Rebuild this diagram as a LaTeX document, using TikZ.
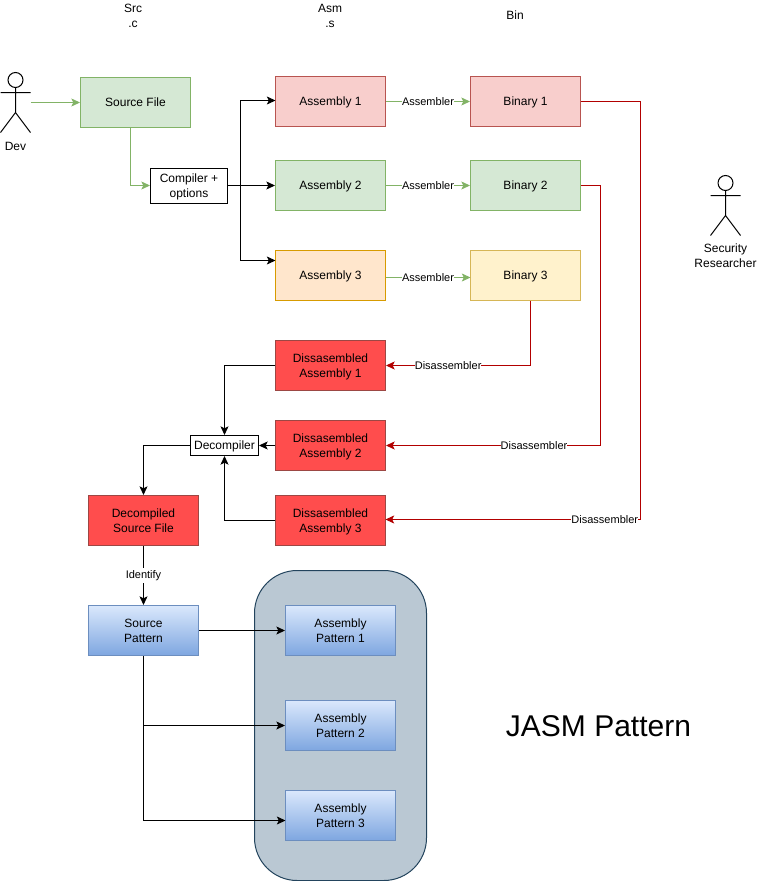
\documentclass[tikz,border=0pt]{standalone}
\usepackage{fontspec}
\setmainfont{Liberation Sans}
\usetikzlibrary{arrows.meta,shapes.misc}
\definecolor{gfill}{HTML}{D5E8D4}\definecolor{gline}{HTML}{82B366}
\definecolor{rfill}{HTML}{F8CECC}\definecolor{rline}{HTML}{B85450}
\definecolor{ofill}{HTML}{FFE6CC}\definecolor{oline}{HTML}{D79B00}
\definecolor{yfill}{HTML}{FFF2CC}\definecolor{yline}{HTML}{D6B656}
\definecolor{dfill}{HTML}{FF4D4D}\definecolor{dred}{HTML}{B20000}
\definecolor{bline}{HTML}{6C8EBF}\definecolor{btop}{HTML}{DAE8FC}\definecolor{bbot}{HTML}{7EA6E0}
\definecolor{grpfill}{HTML}{BAC8D3}\definecolor{grpline}{HTML}{23445D}
\tikzset{
  x=0.75pt,y=-0.75pt,
  txt/.style={font=\fontsize{9}{11.25}\selectfont,align=center,inner sep=0pt,text=black},
  onel/.style={execute at begin node={\rule{0pt}{8pt}},execute at end node={\rule[-2pt]{0pt}{2pt}}},
  twol/.style={text depth=0pt},
  boxn/.style={txt,draw,line width=0.75pt,minimum width=82.5pt,minimum height=37.5pt},
  greenb/.style={boxn,onel,fill=gfill,draw=gline},
  redb/.style={boxn,onel,fill=rfill,draw=rline},
  orangeb/.style={boxn,onel,fill=ofill,draw=oline},
  yellowb/.style={boxn,onel,fill=yfill,draw=yline},
  disb/.style={boxn,twol,fill=dfill,draw=rline!85!black},
  blueb/.style={boxn,twol,top color=btop,bottom color=bbot,draw=bline},
  conn/.style={line width=0.75pt,-{Stealth[length=6.5pt,width=6pt,inset=1.5pt]}},
  blackc/.style={conn,draw=black},
  greenc/.style={conn,draw=gline},
  redc/.style={conn,draw=dred},
  lbl/.style={font=\fontsize{8.25}{10}\selectfont,fill=white,inner xsep=0pt,inner ysep=1pt,text=black},
  fig/.style={line width=0.75pt,draw=black},
  actorbox/.style={minimum width=22.5pt,minimum height=45pt,inner sep=0pt},
}
\begin{document}
\begin{tikzpicture}
\useasboundingbox (0,0) rectangle (757,881);
% headers
\node[txt,twol] (hsrc) at (133,15.5) {Src\\.c};
\node[txt,twol] (hasm) at (330,15.5) {Asm\\.s};
\node[txt,onel] (hbin) at (515,15.5) {Bin};
% actors
\node[actorbox] (dev) at (15.5,102.5) {};
\draw[fig] (15.5,80) circle[radius=7.5];
\draw[fig] (15.5,87.5) -- (15.5,112.5) (0.5,92.5) -- (30.5,92.5) (0.5,132.5) -- (15.5,112.5) -- (30.5,132.5);
\node[txt,onel] (devl) at (15.5,146) {Dev};
\node[actorbox] (sec) at (725.5,205.5) {};
\draw[fig] (725.5,183) circle[radius=7.5];
\draw[fig] (725.5,190.5) -- (725.5,215.5) (710.5,195.5) -- (740.5,195.5) (710.5,235.5) -- (725.5,215.5) -- (740.5,235.5);
\node[txt,twol] (secl) at (725.5,256) {Security\\Researcher};
% group
\node[draw=grpline,fill=grpfill,line width=0.75pt,rounded corners=32pt,minimum width=129pt,minimum height=232.5pt,inner sep=0pt] (grp) at (340.5,725.5) {};
% boxes
\node[greenb] (src) at (135.5,102.5) {Source File};
\node[redb] (a1) at (330.5,101.5) {Assembly 1};
\node[greenb] (a2) at (330.5,185.5) {Assembly 2};
\node[orangeb] (a3) at (330.5,275.5) {Assembly 3};
\node[redb] (b1) at (525.5,101.5) {Binary 1};
\node[greenb] (b2) at (525.5,185.5) {Binary 2};
\node[yellowb] (b3) at (525.5,275.5) {Binary 3};
\node[txt,twol,draw=black,line width=0.75pt,fill=white,minimum width=57.75pt,minimum height=26.25pt] (comp) at (189,185.5) {Compiler +\\options};
\node[disb] (d1) at (330.5,365.5) {Dissasembled\\Assembly 1};
\node[disb] (d2) at (330.5,445.5) {Dissasembled\\Assembly 2};
\node[disb] (d3) at (330.5,520.5) {Dissasembled\\Assembly 3};
\node[txt,onel,draw=black,line width=0.75pt,fill=white,minimum width=51pt,minimum height=15pt] (dec) at (224.5,445.5) {Decompiler};
\node[disb] (ds) at (143.5,520.5) {Decompiled\\Source File};
\node[blueb] (sp) at (143.5,630.5) {Source\\Pattern};
\node[blueb] (p1) at (340.5,630.5) {Assembly\\Pattern 1};
\node[blueb] (p2) at (340.5,725.5) {Assembly\\Pattern 2};
\node[blueb] (p3) at (340.5,815.5) {Assembly\\Pattern 3};
\node[font=\fontsize{22.5}{28}\selectfont,inner sep=0pt,text=black] (title) at (598.5,726) {JASM Pattern};
% helper coordinates
\coordinate (srcout) at (130.5,127.5);
\coordinate (srcbend) at (130.5,185.5);
\coordinate (split) at (240.5,185.5);
\coordinate (a1bend) at (240.5,100.5);
\coordinate (a1in) at (275.5,100.5);
\coordinate (a3bend) at (240.5,260.5);
\coordinate (a3in) at (275.5,260.5);
\coordinate (a3out) at (385.5,277.5);
\coordinate (b3in) at (470.5,277.5);
\coordinate (b3out) at (530.5,300.5);
\coordinate (b3bend) at (530.5,365.5);
\coordinate (b2bend) at (600.5,185.5);
\coordinate (b2low) at (600.5,445.5);
\coordinate (b1bend) at (640.5,101.5);
\coordinate (b1low) at (640.5,519.5);
\coordinate (d3in) at (385.5,519.5);
\coordinate (d1bend) at (224.5,365.5);
\coordinate (d3bend) at (224.5,520.5);
\coordinate (decbend) at (143.5,445.5);
\coordinate (sp2) at (143.5,725.5);
\coordinate (sp3) at (143.5,820.5);
\coordinate (p3in) at (285.5,820.5);
% connectors
\draw[greenc] (dev.east) -- (src.west |- dev.east);
\draw[greenc] (srcout) -- (srcbend) -- (comp.west);
\draw[blackc] (comp.east) -- (a2.west);
\draw[blackc] (split) -- (a1bend) -- (a1in);
\draw[blackc] (split) -- (a3bend) -- (a3in);
\draw[greenc] (a1.east) -- node[lbl,pos=.5]{Assembler} (b1.west);
\draw[greenc] (a2.east) -- node[lbl,pos=.5]{Assembler} (b2.west);
\draw[greenc] (a3out) -- node[lbl,pos=.5]{Assembler} (b3in);
\draw[redc] (b3out) -- (b3bend) -- node[lbl,pos=.57]{Disassembler} (d1.east);
\draw[redc] (b2.east) -- (b2bend) -- (b2low) -- node[lbl,pos=.31]{Disassembler} (d2.east);
\draw[redc] (b1.east) -- (b1bend) -- (b1low) -- node[lbl,pos=.14]{Disassembler} (d3in);
\draw[blackc] (d1.west) -- (d1bend) -- (dec.north);
\draw[blackc] (d2.west) -- (dec.east);
\draw[blackc] (d3.west) -- (d3bend) -- (dec.south);
\draw[blackc] (dec.west) -- (decbend) -- (ds.north);
\draw[blackc] (ds.south) -- node[lbl,pos=.5,inner ysep=2pt]{Identify} (sp.north);
\draw[blackc] (sp.east) -- (p1.west);
\draw[blackc] (sp.south) -- (sp2) -- (p2.west);
\draw[blackc] (sp2) -- (sp3) -- (p3in);
\end{tikzpicture}
\end{document}
